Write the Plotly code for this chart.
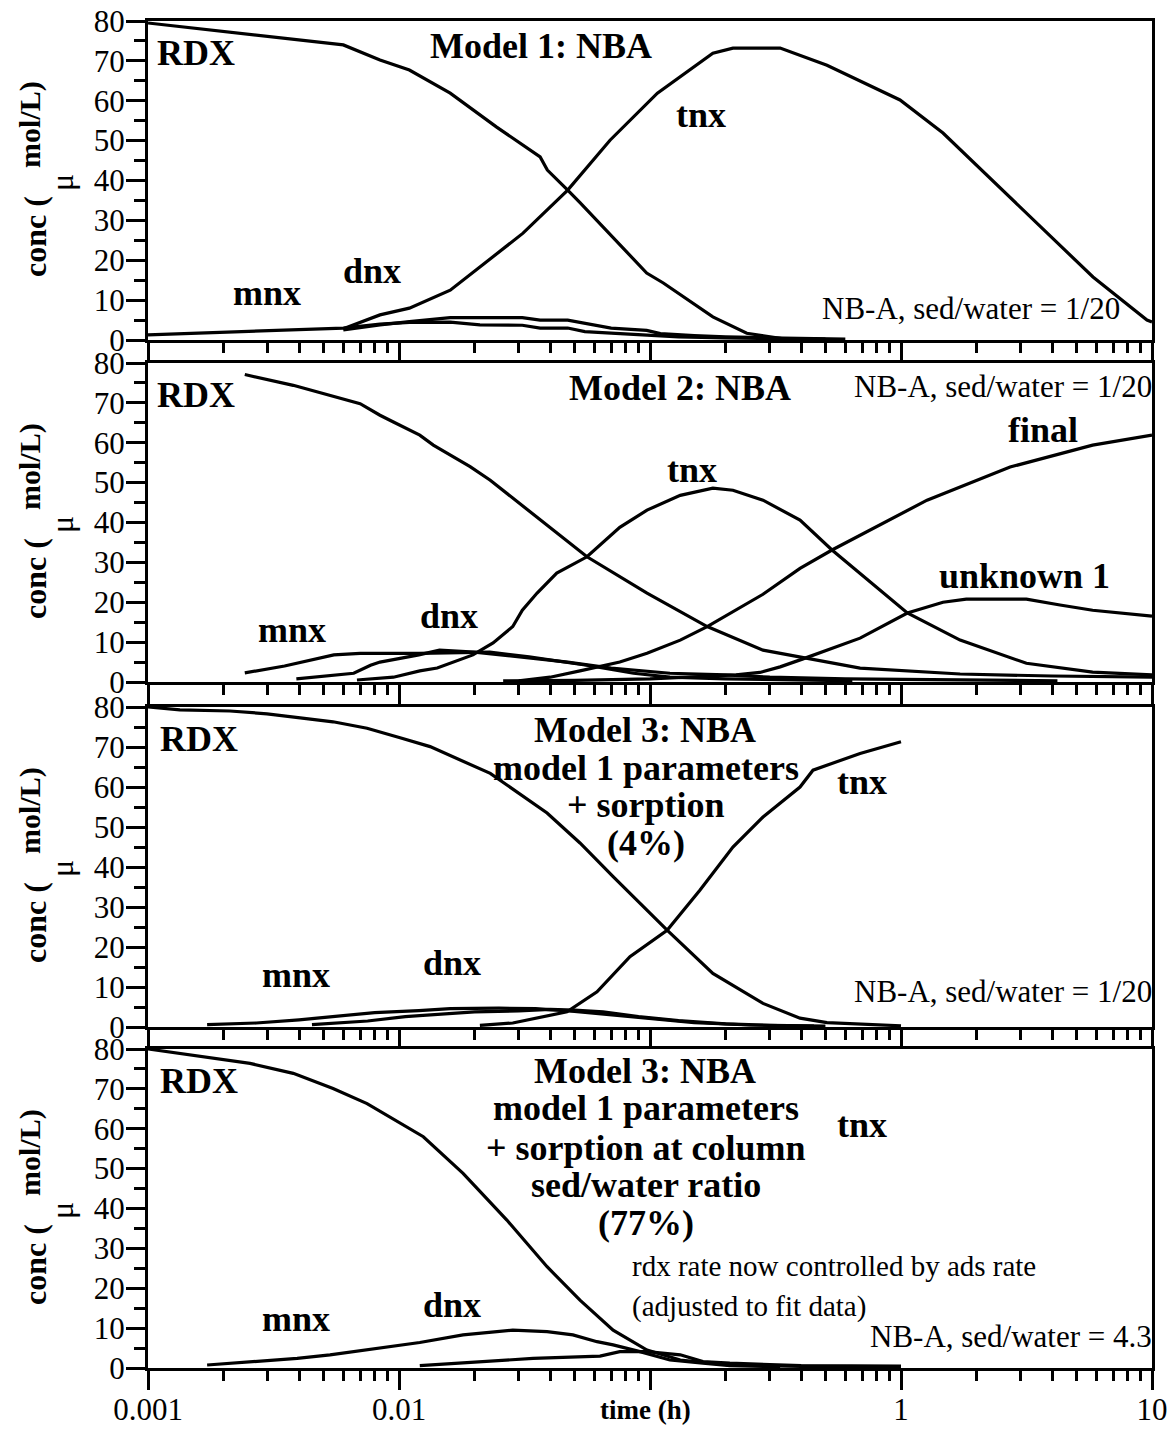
import plotly.graph_objects as go

# ---- Model 1: NBA (sed/water = 1/20) ----
m1_rdx_t = [0.001, 0.006, 0.0084, 0.011, 0.016, 0.0245, 0.0365, 0.039, 0.047, 0.0525, 0.097, 0.113, 0.178, 0.243, 0.34]
m1_rdx_c = [79.5, 74.0, 70.2, 67.7, 61.9, 53.4, 45.9, 42.6, 37.6, 34.5, 16.8, 14.3, 5.8, 1.7, 0.3]
m1_tnx_t = [0.006, 0.0084, 0.011, 0.016, 0.021, 0.0312, 0.047, 0.0693, 0.107, 0.178, 0.214, 0.33, 0.507, 0.991, 1.47, 2.72, 5.82, 9.55, 10]
m1_tnx_c = [2.8, 6.3, 8.0, 12.5, 18.3, 26.8, 37.6, 50.1, 61.9, 71.9, 73.2, 73.2, 68.9, 60.2, 51.9, 35.8, 15.8, 5.0, 4.5]
m1_mnx_t = [0.001, 0.006, 0.0084, 0.011, 0.016, 0.021, 0.031, 0.0365, 0.047, 0.055, 0.07, 0.097, 0.13, 0.2, 0.34, 0.5]
m1_mnx_c = [1.3, 3.0, 4.0, 4.4, 4.5, 3.8, 3.7, 3.0, 3.0, 2.1, 1.7, 1.2, 0.8, 0.5, 0.3, 0.2]
m1_dnx_t = [0.006, 0.0084, 0.011, 0.016, 0.031, 0.0365, 0.047, 0.055, 0.07, 0.097, 0.11, 0.15, 0.2, 0.34, 0.6]
m1_dnx_c = [2.5, 3.8, 4.6, 5.6, 5.6, 5.0, 5.0, 4.2, 3.0, 2.4, 1.6, 1.1, 0.8, 0.5, 0.2]

# ---- Model 2: NBA (sed/water = 1/20) ----
m2_rdx_t = [0.00243, 0.00379, 0.0070, 0.0084, 0.0095, 0.0121, 0.0137, 0.0192, 0.0231, 0.0355, 0.0561, 0.0973, 0.169, 0.282, 0.422, 0.687, 1.72, 4.0, 10]
m2_rdx_c = [77.1, 74.4, 69.8, 66.9, 65.2, 61.9, 59.4, 54.0, 50.6, 41.4, 31.4, 22.3, 13.9, 8.0, 6.0, 3.5, 2.0, 1.5, 1.2]
m2_tnx_t = [0.0068, 0.0095, 0.0121, 0.0142, 0.0197, 0.0237, 0.0284, 0.031, 0.0355, 0.0425, 0.0561, 0.0758, 0.0973, 0.132, 0.178, 0.214, 0.282, 0.396, 0.531, 1.06, 1.72, 3.16, 5.8, 10]
m2_tnx_c = [0.5, 1.2, 2.8, 3.5, 6.8, 9.8, 13.9, 18.0, 22.3, 27.3, 31.4, 38.8, 43.1, 46.8, 48.6, 48.1, 45.6, 40.6, 33.1, 17.3, 10.5, 4.7, 2.5, 1.8]
m2_final_t = [0.03, 0.04, 0.0526, 0.0758, 0.0973, 0.132, 0.169, 0.243, 0.282, 0.396, 0.531, 1.27, 2.72, 5.8, 10]
m2_final_c = [0.3, 1.2, 2.8, 5.0, 7.2, 10.5, 13.9, 19.5, 22.0, 28.5, 33.1, 45.6, 53.9, 59.4, 61.9]
m2_unk_t = [0.026, 0.05, 0.1, 0.15, 0.22, 0.274, 0.33, 0.407, 0.687, 1.06, 1.47, 1.82, 3.16, 4.3, 5.8, 10]
m2_unk_c = [0.3, 0.4, 0.8, 1.3, 1.8, 2.4, 3.8, 5.8, 11.0, 17.3, 20.0, 20.8, 20.8, 19.3, 18.0, 16.5]
m2_mnx_t = [0.00243, 0.0035, 0.0055, 0.007, 0.012, 0.018, 0.023, 0.033, 0.056, 0.086, 0.12, 0.2, 0.4, 0.64]
m2_mnx_c = [2.3, 4.0, 6.8, 7.2, 7.2, 7.5, 7.5, 6.3, 4.2, 2.2, 1.2, 0.8, 0.5, 0.3]
m2_dnx_t = [0.0039, 0.0066, 0.0077, 0.0084, 0.012, 0.0145, 0.02, 0.033, 0.047, 0.07, 0.12, 0.2, 0.3, 0.6, 1.5, 4.2]
m2_dnx_c = [0.8, 2.2, 4.2, 5.0, 6.8, 8.0, 7.5, 6.0, 5.0, 3.5, 2.2, 1.8, 1.2, 0.8, 0.5, 0.3]

# ---- Model 3: model 1 parameters + sorption (4%) ----
m3_rdx_t = [0.001, 0.00134, 0.00212, 0.00298, 0.00404, 0.00546, 0.00746, 0.0084, 0.0101, 0.0133, 0.0231, 0.0389, 0.0526, 0.0713, 0.117, 0.178, 0.282, 0.396, 0.507, 1.0]
m3_rdx_c = [80, 79.3, 79.0, 78.3, 77.3, 76.3, 74.7, 73.8, 72.3, 70.1, 63.4, 53.5, 46.0, 37.6, 24.2, 13.4, 5.9, 2.2, 1.1, 0.3]
m3_tnx_t = [0.021, 0.0284, 0.0467, 0.0615, 0.0832, 0.117, 0.158, 0.214, 0.282, 0.396, 0.446, 0.687, 1.0]
m3_tnx_c = [0.4, 1.0, 3.8, 8.8, 17.6, 24.2, 34.2, 45.0, 52.5, 60.0, 64.2, 68.4, 71.3]
m3_mnx_t = [0.00172, 0.0027, 0.004, 0.0056, 0.008, 0.012, 0.016, 0.025, 0.035, 0.05, 0.07, 0.1, 0.15, 0.25, 0.45]
m3_mnx_c = [0.6, 1.0, 1.8, 2.7, 3.6, 4.1, 4.6, 4.7, 4.6, 3.9, 3.0, 2.0, 1.1, 0.5, 0.2]
m3_dnx_t = [0.0045, 0.0075, 0.0106, 0.014, 0.02, 0.03, 0.04, 0.05, 0.065, 0.09, 0.13, 0.2, 0.3, 0.5]
m3_dnx_c = [0.6, 1.5, 2.6, 3.2, 3.8, 4.0, 4.4, 4.2, 3.8, 2.6, 1.6, 0.8, 0.4, 0.2]

# ---- Model 3: sorption at column sed/water ratio (77%) ----
m4_rdx_t = [0.001, 0.00119, 0.00172, 0.00255, 0.00379, 0.00546, 0.00746, 0.0101, 0.0125, 0.018, 0.0269, 0.0389, 0.0526, 0.0713, 0.0973, 0.132, 0.208, 0.4, 1.0]
m4_rdx_c = [80, 79.3, 78.0, 76.4, 73.9, 70.1, 66.3, 61.3, 58.0, 48.8, 37.1, 25.4, 17.0, 9.5, 4.5, 2.0, 0.75, 0.4, 0.3]
m4_mnx_t = [0.00172, 0.00274, 0.00393, 0.00531, 0.00656, 0.00816, 0.0101, 0.0121, 0.018, 0.0284, 0.0389, 0.0493, 0.0615, 0.0713, 0.0912, 0.12, 0.1625, 0.208, 0.33]
m4_mnx_c = [0.75, 1.6, 2.4, 3.3, 4.1, 4.9, 5.8, 6.4, 8.3, 9.5, 9.1, 8.3, 6.6, 5.8, 4.1, 2.0, 1.2, 0.6, 0.3]
m4_dnx_t = [0.0121, 0.0216, 0.0342, 0.0632, 0.0758, 0.0973, 0.132, 0.1625, 0.208, 0.4, 1.0]
m4_dnx_c = [0.6, 1.6, 2.4, 3.0, 4.1, 4.1, 3.3, 1.6, 1.2, 0.6, 0.5]

# tick labels
x_tickvals = [0.001, 0.01, 0.1, 1, 10]
x_ticktext = ["0.001", "0.01", "", "1", "10"]
y_tickvals = [0, 10, 20, 30, 40, 50, 60, 70, 80]

FONT = "Liberation Serif, Times New Roman, serif"
W, H = 1176, 1429
ML, MR, MT, MB = 148, 24, 21, 61
PW = W - ML - MR
PH = H - MT - MB
BASE = H - MB

# panel (top, bottom) in pixels
panel_px = [(21, 340), (363, 682), (707, 1027), (1049, 1368)]

panel_series = [
    [(m1_rdx_t, m1_rdx_c), (m1_tnx_t, m1_tnx_c), (m1_mnx_t, m1_mnx_c), (m1_dnx_t, m1_dnx_c)],
    [(m2_rdx_t, m2_rdx_c), (m2_tnx_t, m2_tnx_c), (m2_final_t, m2_final_c), (m2_unk_t, m2_unk_c),
     (m2_mnx_t, m2_mnx_c), (m2_dnx_t, m2_dnx_c)],
    [(m3_rdx_t, m3_rdx_c), (m3_tnx_t, m3_tnx_c), (m3_mnx_t, m3_mnx_c), (m3_dnx_t, m3_dnx_c)],
    [(m4_rdx_t, m4_rdx_c), (m4_mnx_t, m4_mnx_c), (m4_dnx_t, m4_dnx_c)],
]

minor_x = [m * 10 ** e for e in range(-3, 1) for m in range(2, 10)]


def px(x, y):
    # pixel position -> paper coordinates
    return (x - ML) / PW, (BASE - y) / PH


fig = go.Figure()

for i, series in enumerate(panel_series):
    n = i + 1
    for t, c in series:
        fig.add_trace(go.Scatter(x=t, y=c, mode="lines",
                                 line=dict(color="black", width=3.2),
                                 xaxis="x%d" % n, yaxis="y%d" % n,
                                 showlegend=False, hoverinfo="skip"))

    top, bot = panel_px[i]
    dom = [(BASE - bot) / PH, (BASE - top) / PH]
    xkey = "xaxis" if n == 1 else "xaxis%d" % n
    ykey = "yaxis" if n == 1 else "yaxis%d" % n
    fig.layout[xkey] = dict(
        domain=[0, 1], anchor="y%d" % n, type="log", range=[-3, 1],
        automargin=False,
        showline=True, linecolor="black", linewidth=3, mirror=True,
        showgrid=False, zeroline=False,
        tickmode="array", tickvals=x_tickvals, ticktext=x_ticktext,
        ticks="outside", ticklen=19, tickwidth=3, tickcolor="black",
        showticklabels=(n == 4), ticklabelstandoff=-7,
        tickfont=dict(family=FONT, size=31, color="black"),
        minor=dict(tickmode="array", tickvals=minor_x, ticks="outside",
                   ticklen=10, tickwidth=3, tickcolor="black"),
    )
    fig.layout[ykey] = dict(
        domain=dom, anchor="x%d" % n, range=[0, 80],
        automargin=False,
        showline=True, linecolor="black", linewidth=3, mirror=True,
        showgrid=False, zeroline=False,
        tickmode="array", tickvals=y_tickvals,
        ticks="outside", ticklen=19, tickwidth=3, tickcolor="black",
        ticklabelstandoff=-5,
        tickfont=dict(family=FONT, size=31, color="black"),
        minor=dict(dtick=5, ticks="outside", ticklen=11, tickwidth=3, tickcolor="black"),
    )


def add_text(x, y, text, size=36, bold=True, xanchor="center", angle=0):
    px_x, px_y = px(x, y)
    fig.add_annotation(xref="paper", yref="paper", x=px_x, y=px_y,
                       text=("<b>%s</b>" % text) if bold else text,
                       showarrow=False, xanchor=xanchor, yanchor="middle",
                       textangle=angle,
                       font=dict(family=FONT, size=size, color="black"))


# y-axis titles
for top, bot in panel_px:
    add_text(35, top + 216, "conc (", size=32, angle=-90)
    add_text(62, top + 162, "μ", size=32, bold=False, angle=-90)
    add_text(30, top + 104, "mol/L)", size=30, angle=-90)

# panel 1
add_text(155, 53, "RDX", xanchor="left")
add_text(541, 46, "Model 1: NBA")
add_text(701, 115, "tnx")
add_text(372, 271, "dnx")
add_text(267, 293, "mnx")
add_text(1122, 309, "NB-A, sed/water = 1/20", size=31, bold=False, xanchor="right")

# panel 2
add_text(155, 395, "RDX", xanchor="left")
add_text(680, 388, "Model 2: NBA")
add_text(1154, 387, "NB-A, sed/water = 1/20", size=31, bold=False, xanchor="right")
add_text(1043, 430, "final")
add_text(692, 470, "tnx")
add_text(1024, 576, "unknown 1")
add_text(449, 616, "dnx")
add_text(292, 630, "mnx")

# panel 3
add_text(158, 739, "RDX", xanchor="left")
add_text(645, 730, "Model 3: NBA")
add_text(646, 768, "model 1 parameters")
add_text(646, 805, "+ sorption")
add_text(646, 843, "(4%)")
add_text(862, 782, "tnx")
add_text(452, 963, "dnx")
add_text(296, 975, "mnx")
add_text(1154, 992, "NB-A, sed/water = 1/20", size=31, bold=False, xanchor="right")

# panel 4
add_text(158, 1081, "RDX", xanchor="left")
add_text(645, 1071, "Model 3: NBA")
add_text(646, 1108, "model 1 parameters")
add_text(646, 1148, "+ sorption at column")
add_text(646, 1185, "sed/water ratio")
add_text(646, 1223, "(77%)")
add_text(862, 1125, "tnx")
add_text(630, 1266, "rdx rate now controlled by ads rate", size=29, bold=False, xanchor="left")
add_text(630, 1306, "(adjusted to fit data)", size=29, bold=False, xanchor="left")
add_text(452, 1305, "dnx")
add_text(296, 1319, "mnx")
add_text(1154, 1336, "NB-A, sed/water = 4.3", size=31, bold=False, xanchor="right")

# x-axis title sits where the 0.1 label would be
add_text(645, 1410, "time (h)", size=27)

fig.update_layout(
    width=W, height=H,
    margin=dict(l=ML, r=MR, t=MT, b=MB, autoexpand=False),
    plot_bgcolor="white", paper_bgcolor="white",
    showlegend=False,
    font=dict(family=FONT, color="black"),
)

# drop the browser's default page margin so the figure fills the window
fig.write_html("out.html", config={"displayModeBar": False},
               post_script="document.body.style.margin='0px';")
